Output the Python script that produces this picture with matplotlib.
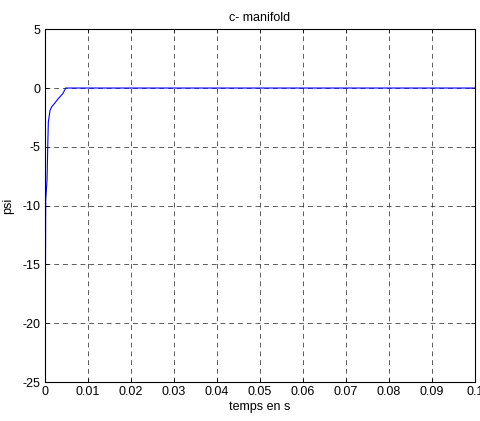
import numpy as np
import matplotlib
matplotlib.use("Agg")
import matplotlib.pyplot as plt

plt.rcParams['font.family'] = ['Liberation Sans', 'DejaVu Sans']
plt.rcParams['font.size'] = 9
plt.rcParams['axes.unicode_minus'] = False

# Sliding variable trajectory (time in s, psi)
t = [0.0, 0.0001, 0.00016, 0.00047, 0.00063, 0.00077, 0.00116, 0.00156,
     0.0031, 0.0042, 0.0048, 0.1]
psi = [-23.0, -16.0, -9.5, -7.8, -5.0, -2.9, -1.9, -1.6,
       -0.9, -0.45, 0.0, 0.0]

xticks = [0, 0.01, 0.02, 0.03, 0.04, 0.05, 0.06, 0.07, 0.08, 0.09, 0.1]
xticklabels = ['0', '0.01', '0.02', '0.03', '0.04', '0.05', '0.06', '0.07', '0.08', '0.09', '0.1']
yticks = [-25, -20, -15, -10, -5, 0, 5]

fig = plt.figure(figsize=(4.81, 4.21), dpi=100)
ax = fig.add_axes([0.0936, 0.0926, 0.894, 0.838])

ax.plot(t, psi, color='#0000ff', linewidth=0.8)

ax.set_xlim(0, 0.1)
ax.set_ylim(-25, 5)
ax.set_xticks(xticks)
ax.set_xticklabels(xticklabels)
ax.set_yticks(yticks)
ax.tick_params(direction='in', top=True, right=True, length=3, width=0.6, pad=3)
ax.grid(True, color='#333333', linestyle=(0, (5, 4)), linewidth=0.7, alpha=0.8)
for s in ax.spines.values():
    s.set_linewidth(0.8)

ax.set_title('c- manifold', fontsize=9, pad=6)
ax.set_xlabel('temps en s', labelpad=2)
ax.set_ylabel('psi', labelpad=6)

fig.savefig('out.png', dpi=100)
